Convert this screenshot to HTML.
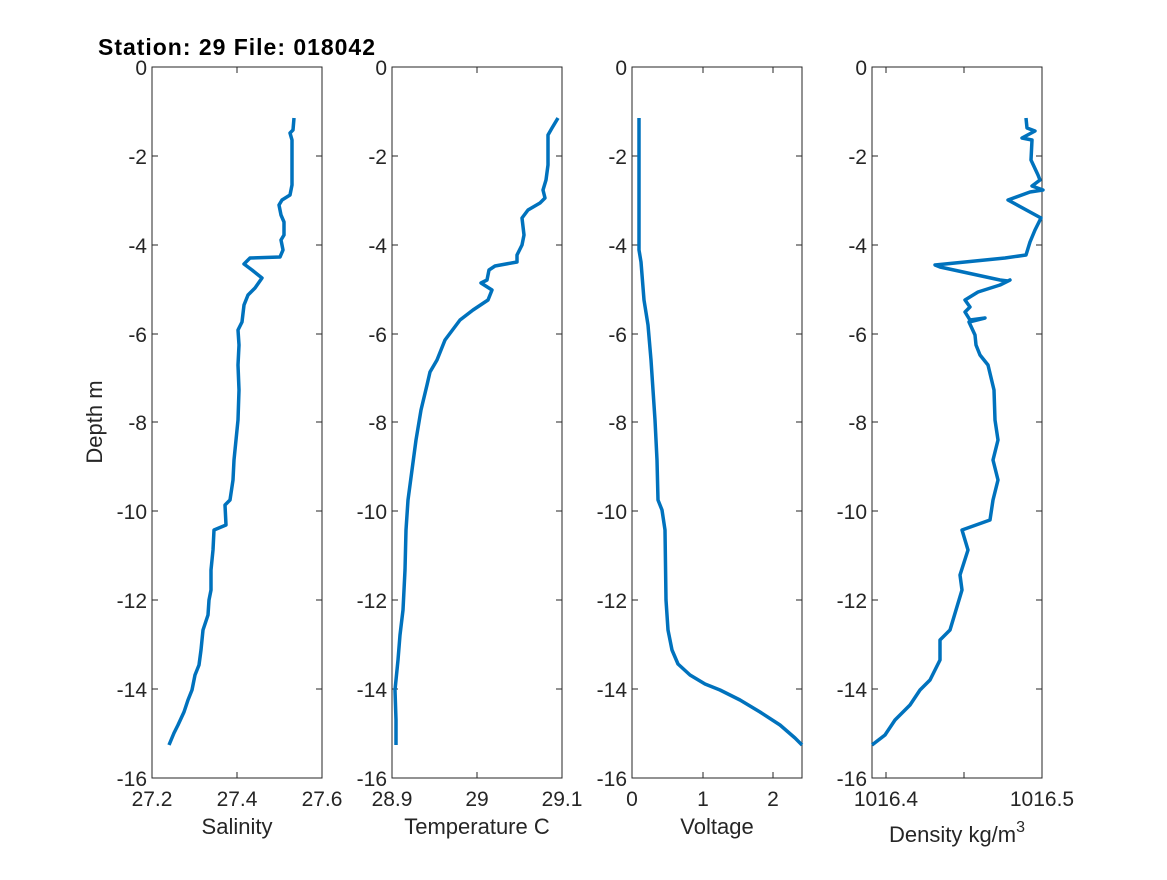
<!DOCTYPE html>
<html><head><meta charset="utf-8"><style>
html,body{margin:0;padding:0;background:#fff;}
svg text{font-family:"Liberation Sans",sans-serif;fill:#262626;}
</style></head><body>
<svg width="1167" height="875" xmlns="http://www.w3.org/2000/svg">
<rect width="1167" height="875" fill="#fff"/>
<text x="98" y="55" font-size="23" font-weight="bold" textLength="277" style="fill:#000">Station: 29 File: 018042</text>
<g stroke="#262626" stroke-width="1" fill="none">
<rect x="152" y="67" width="170" height="711"/>
<rect x="392" y="67" width="170" height="711"/>
<rect x="632" y="67" width="170" height="711"/>
<rect x="872" y="67" width="170" height="711"/>
</g>
<g stroke="#262626" stroke-width="1">
<path d="M152 156h6M152 245h6M152 334h6M152 422h6M152 511h6M152 600h6M152 689h6M322 156h-6M322 245h-6M322 334h-6M322 422h-6M322 511h-6M322 600h-6M322 689h-6"/>
<path d="M392 156h6M392 245h6M392 334h6M392 422h6M392 511h6M392 600h6M392 689h6M562 156h-6M562 245h-6M562 334h-6M562 422h-6M562 511h-6M562 600h-6M562 689h-6"/>
<path d="M632 156h6M632 245h6M632 334h6M632 422h6M632 511h6M632 600h6M632 689h6M802 156h-6M802 245h-6M802 334h-6M802 422h-6M802 511h-6M802 600h-6M802 689h-6"/>
<path d="M872 156h6M872 245h6M872 334h6M872 422h6M872 511h6M872 600h6M872 689h6M1042 156h-6M1042 245h-6M1042 334h-6M1042 422h-6M1042 511h-6M1042 600h-6M1042 689h-6"/>
<path d="M237 778v-6M237 67v6M477 778v-6M477 67v6M703 778v-6M703 67v6M773 778v-6M773 67v6M886 778v-6M886 67v6M964 778v-6M964 67v6"/>
</g>
<g font-size="21" text-anchor="end">
<g id="yl">
<text x="147" y="75">0</text><text x="147" y="164">-2</text><text x="147" y="253">-4</text><text x="147" y="342">-6</text><text x="147" y="430">-8</text><text x="147" y="519">-10</text><text x="147" y="608">-12</text><text x="147" y="697">-14</text><text x="147" y="786">-16</text>
</g>
<use href="#yl" x="240"/><use href="#yl" x="480"/><use href="#yl" x="720"/>
</g>
<g font-size="21" text-anchor="middle">
<text x="152" y="806">27.2</text><text x="237" y="806">27.4</text><text x="322" y="806">27.6</text>
<text x="392" y="806">28.9</text><text x="477" y="806">29</text><text x="562" y="806">29.1</text>
<text x="632" y="806">0</text><text x="703" y="806">1</text><text x="773" y="806">2</text>
<text x="886" y="806">1016.4</text><text x="1042" y="806">1016.5</text>
<text x="237" y="834" font-size="22">Salinity</text>
<text x="477" y="834" font-size="22">Temperature C</text>
<text x="717" y="834" font-size="22">Voltage</text>
<text x="957" y="842" font-size="22">Density kg/m<tspan dy="-10" font-size="16">3</tspan></text>
<text transform="translate(102,422) rotate(-90)" font-size="22">Depth m</text>
</g>
<g fill="none" stroke="#0072bd" stroke-width="3.5" stroke-linejoin="round">
<polyline points="294,118 293,130 290,133 292,140 292,160 292,185 290,195 282,200 279,205 281,215 284,222 284,235 281,240 283,250 280,257 250,258 244,264 252,270 262,278 255,288 248,295 244,305 242,322 238,330 239,345 238,365 239,390 238,420 236,440 234,460 233,480 230,500 225,505 226,525 214,530 213,550 211,570 211,590 209,600 208,615 203,630 201,650 199,665 195,675 192,690 188,700 184,712 178,725 174,733 169,745"/>
<polyline points="558,118 552,128 548,135 548,165 546,180 543,190 545,198 540,203 528,210 522,218 524,235 522,245 517,255 517,262 495,266 489,270 487,280 481,283 492,290 488,300 473,310 460,320 445,340 437,360 430,372 427,385 421,410 416,440 412,470 408,500 406,530 405,570 403,610 400,635 398,660 395,690 396,720 396,745"/>
<polyline points="639,118 639,250 641,262 644,300 648,325 651,360 653,390 655,420 657,460 658,500 662,510 665,530 666,600 668,630 672,650 678,664 690,675 705,684 720,690 740,700 760,712 780,725 795,738 802,745"/>
<polyline points="1026,118 1027,128 1035,131 1022,138 1032,140 1031,160 1038,175 1040,180 1032,186 1043,190 1030,192 1008,200 1041,218 1035,230 1030,242 1026,255 1005,258 935,265 940,267 1000,280 1008,281 1010,280 1000,285 978,292 965,300 970,307 965,312 970,320 985,318 969,322 975,335 976,345 980,355 988,365 994,390 995,420 998,440 993,460 998,480 993,500 990,520 962,530 968,550 960,575 962,590 956,610 950,630 940,640 940,660 930,680 920,690 910,705 895,720 885,735 872,745"/>
</g>
</svg>
</body></html>
